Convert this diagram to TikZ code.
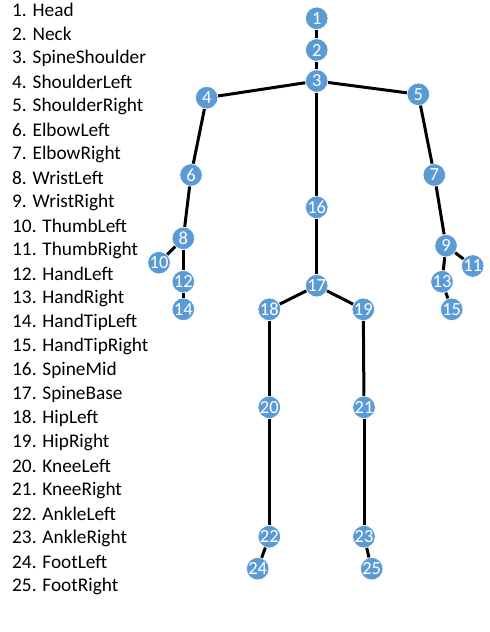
\documentclass[tikz,border=0pt]{standalone}
\usepackage{fontspec}
\setmainfont{Carlito}
\usetikzlibrary{positioning}
\definecolor{jointblue}{RGB}{91,155,213}

\begin{document}
\begin{tikzpicture}[x=1pt,y=-1pt,
    joint/.style={circle,fill=jointblue,draw=white,line width=0.6pt,minimum size=22.5pt,inner sep=0pt,
      text=white,font=\fontsize{18.5}{18.5}\selectfont},
    bone/.style={line width=3pt,black},
    item/.style={anchor=west,inner sep=0pt,font=\fontsize{19.3}{20}\selectfont}]
  \useasboundingbox (0,0) rectangle (490,632);
  % joint list
  \foreach \name [count=\i] in {Head,Neck,SpineShoulder,ShoulderLeft,ShoulderRight,
      ElbowLeft,ElbowRight,WristLeft,WristRight,ThumbLeft,ThumbRight,HandLeft,
      HandRight,HandTipLeft,HandTipRight,SpineMid,SpineBase,HipLeft,HipRight,
      KneeLeft,KneeRight,AnkleLeft,AnkleRight,FootLeft,FootRight}
    \node[item] (list\i) at (12,{10+24*(\i-1)}) {\i. \name};
  % skeleton joints
  \foreach \i/\x/\y in {1/316.7/18.3, 2/316.7/50, 3/316.7/81, 4/206.7/97.7,
      5/418.3/94.3, 6/191/175, 7/434.3/175, 8/183.3/238.3, 9/446/245.7,
      10/159/262.7, 11/472.7/266, 12/183.3/281.7, 13/442/281.7, 14/183.3/309.3,
      15/451.7/309.3, 16/316.7/207.3, 17/316.7/285.7, 18/269.3/309.3,
      19/363.3/309.3, 20/269.3/407.3, 21/364/407.3, 22/269.3/536.7,
      23/364/536.7, 24/257.7/568.7, 25/371.7/568.7}
    \node[joint] (j\i) at (\x,\y) {\i};
  % bones
  \foreach \a/\b in {1/2, 2/3, 3/4, 3/5, 3/16, 4/6, 6/8, 8/10, 8/12, 12/14,
      5/7, 7/9, 9/11, 9/13, 13/15, 16/17, 17/18, 17/19, 18/20, 20/22, 22/24,
      19/21, 21/23, 23/25}
    \draw[bone] (j\a) -- (j\b);
\end{tikzpicture}
\end{document}
